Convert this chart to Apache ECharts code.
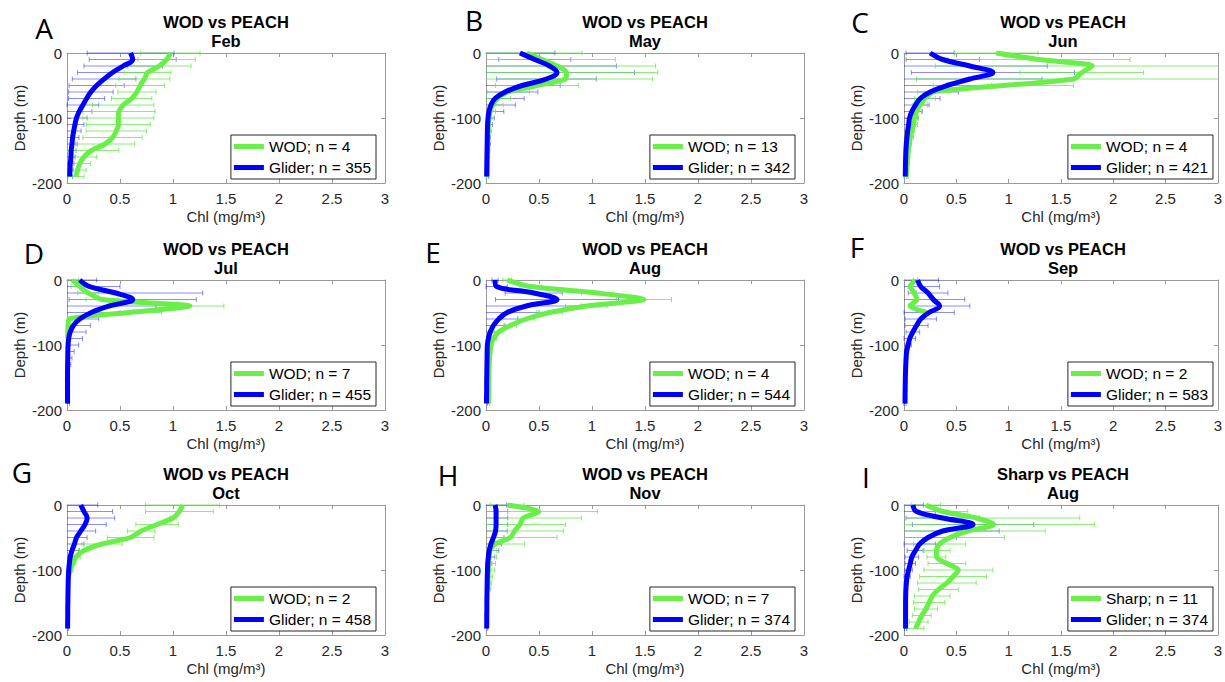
<!DOCTYPE html>
<html><head><meta charset="utf-8">
<script src="https://cdn.jsdelivr.net/npm/echarts@6/dist/echarts.min.js"></script>
<style>html,body{margin:0;padding:0;background:#fff}#c{width:1225px;height:682px}</style>
</head><body><div id="c"></div>
<script>
// ---------- DATA ----------
const depths = [0,-10,-20,-30,-40,-50,-60,-70,-80,-90,-100,-110,-120,-130,-140,-150,-160,-170,-180,-190];
const xTickLabels = ['0','0.5','1','1.5','2','2.5','3'];
const yTickLabels = ['-200','-100','0'];
const panelLetters = ['A','B','C','D','E','F','G','H','I'];
const panelTitles = ['WOD vs PEACH','WOD vs PEACH','WOD vs PEACH','WOD vs PEACH','WOD vs PEACH','WOD vs PEACH','WOD vs PEACH','WOD vs PEACH','Sharp vs PEACH'];
const panelMonths = ['Feb','May','Jun','Jul','Aug','Sep','Oct','Nov','Aug'];
const refLabels = ['WOD','WOD','WOD','WOD','WOD','WOD','WOD','WOD','Sharp'];
const refCounts = [4,13,4,7,4,2,2,7,11];
const gliderCounts = [355,342,421,455,544,583,458,374,374];

// A - Feb
const febGliderMean = [0.60,0.62,0.53,0.43,0.35,0.28,0.225,0.185,0.15,0.115,0.09,0.075,0.063,0.053,0.047,0.04,0.037,0.031,0.028,0.025];
const febGliderStd  = [0.41,0.41,0.37,0.33,0.30,0.26,0.21,0.17,0.15,0.12,0.10,0.085,0.07,0.06,0.05,0.045,0.04,0.035,0.03,0.028];
const febWodMean    = [0.975,0.94,0.87,0.76,0.73,0.69,0.66,0.61,0.53,0.49,0.485,0.485,0.465,0.43,0.36,0.23,0.16,0.12,0.10,0.085];
const febWodStd     = [0.28,0.27,0.30,0.22,0.24,0.23,0.18,0.19,0.29,0.34,0.335,0.30,0.285,0.28,0.28,0.26,0.12,0.10,0.08,0.075];
// B - May
const mayGliderMean = [0.32,0.46,0.60,0.67,0.57,0.34,0.18,0.085,0.047,0.028,0.019,0.015,0.013,0.012,0.011,0.01,0.009,0.008,0.007,0.006];
const mayGliderStd  = [0.33,0.34,0.63,0.73,0.47,0.36,0.31,0.275,0.23,0.14,0.06,0.045,0.035,0.03,0.03,0.025,0.025,0.02,0.02,0.02];
const mayWodMean    = [0.385,0.53,0.67,0.76,0.75,0.48,0.21,0.11,0.063,0.04,0.028,0.022,0.02,0.018,0.016,0.015,0.014,0.013,0.012,0.012];
const mayWodStd     = [0.52,0.69,0.93,0.86,0.82,0.39,0.2,0.12,0.1,0.05,0.03,0.02,0.02,0.015,0.015,0.01,0.01,0.01,0.01,0.01];
// C - Jun
const junGliderMean = [0.25,0.37,0.63,0.85,0.63,0.41,0.25,0.155,0.11,0.075,0.053,0.044,0.035,0.028,0.022,0.018,0.016,0.014,0.013,0.012];
const junGliderStd  = [0.23,0.35,0.74,0.78,0.69,0.43,0.27,0.19,0.13,0.10,0.08,0.06,0.05,0.04,0.03,0.025,0.02,0.02,0.02,0.015];
const junWodMean    = [0.88,1.29,1.80,1.70,1.62,0.95,0.28,0.20,0.155,0.12,0.10,0.09,0.075,0.06,0.05,0.04,0.035,0.03,0.025,0.02];
const junWodStd     = [0.40,0.87,1.50,0.59,1.50,0.67,0.15,0.10,0.07,0.05,0.04,0.04,0.03,0.03,0.02,0.02,0.02,0.02,0.02,0.02];
// D - Jul
const julGliderMean = [0.12,0.21,0.46,0.62,0.40,0.23,0.12,0.06,0.03,0.016,0.01,0.008,0.007,0.006,0.005,0.005,0.005,0.005,0.005,0.005];
const julGliderStd  = [0.16,0.29,0.82,0.60,0.44,0.27,0.18,0.16,0.15,0.13,0.10,0.06,0.04,0.03,0.02,0.02,0.02,0.02,0.02,0.02];
const julWodMean    = [0.05,0.12,0.20,0.33,1.16,0.59,0.02,0.01,0.008,0.008];
const julWodStd     = [0.06,0.08,0.10,0.15,0.32,0.30,0.03,0.02,0.02,0.02];
// E - Aug
const augGliderMean = [0.085,0.10,0.45,0.67,0.38,0.20,0.12,0.07,0.04,0.022,0.013,0.011,0.01,0.009,0.008,0.007,0.006,0.006,0.005,0.005];
const augGliderStd  = [0.03,0.10,0.27,0.58,0.52,0.30,0.18,0.11,0.08,0.06,0.04,0.03,0.02,0.02,0.015,0.01,0.01,0.01,0.01,0.01];
const augWodMean    = [0.20,0.42,1.05,1.49,0.95,0.60,0.38,0.23,0.12,0.07,0.047,0.038,0.033,0.03,0.028,0.027,0.026,0.025,0.025,0.025];
const augWodStd     = [0.04,0.10,0.15,0.26,0.20,0.12,0.08,0.06,0.04,0.03,0.02,0.02,0.015,0.015,0.01,0.01,0.01,0.01,0.01,0.01];
// F - Sep
const sepGliderMean = [0.13,0.16,0.23,0.28,0.34,0.24,0.16,0.12,0.085,0.055,0.04,0.025,0.02,0.017,0.015,0.013,0.012,0.011,0.01,0.01];
const sepGliderStd  = [0.20,0.18,0.19,0.30,0.29,0.24,0.15,0.11,0.065,0.055,0.03,0.02,0.015,0.01,0.01,0.01,0.01,0.01,0.01,0.01];
const sepWodMean    = [0.11,0.06,0.10,0.12,0.06,0.22];
const sepWodStd     = [0.02,0.02,0.02,0.02,0.02,0.02];
// G - Oct
const octGliderMean = [0.13,0.16,0.19,0.17,0.13,0.09,0.07,0.047,0.03,0.022,0.016,0.013,0.011,0.01,0.009,0.008,0.007,0.007,0.006,0.006];
const octGliderStd  = [0.16,0.27,0.26,0.20,0.14,0.10,0.09,0.07,0.055,0.04,0.03,0.02,0.015,0.01,0.01,0.01,0.01,0.01,0.01,0.01];
const octWodMean    = [1.09,1.06,1.0,0.85,0.70,0.60,0.33,0.16,0.085,0.054,0.03,0.013];
const octWodStd     = [0.35,0.32,0.03,0.2,0.13,0.22,0.19,0.05,0.04,0.03,0.02,0.01];
// H - Nov
const novGliderMean = [0.085,0.095,0.095,0.095,0.09,0.07,0.047,0.03,0.022,0.016,0.014,0.012,0.011,0.01,0.009,0.008,0.008,0.007,0.007,0.006];
const novGliderStd  = [0.11,0.11,0.11,0.11,0.11,0.10,0.10,0.09,0.06,0.04,0.03,0.02,0.02,0.015,0.01,0.01,0.01,0.01,0.01,0.01];
const novWodMean    = [0.20,0.50,0.35,0.32,0.27,0.23,0.085,0.04,0.03,0.025,0.022,0.02,0.02,0.02];
const novWodStd     = [0.16,0.55,0.55,0.43,0.46,0.44,0.28,0.06,0.07,0.065,0.06,0.04,0.03,0.02];
// I - Aug (Sharp)
const augSharpGliderMean = [0.085,0.12,0.37,0.66,0.37,0.23,0.15,0.11,0.075,0.06,0.044,0.03,0.022,0.018,0.016,0.015,0.015,0.015,0.015,0.015];
const augSharpGliderStd  = [0.10,0.18,0.35,0.58,0.54,0.27,0.15,0.08,0.065,0.05,0.036,0.03,0.02,0.015,0.01,0.01,0.01,0.01,0.01,0.01];
const augSharpMean       = [0.21,0.37,0.69,0.86,0.61,0.44,0.34,0.31,0.31,0.41,0.52,0.47,0.41,0.33,0.27,0.24,0.21,0.17,0.14,0.11];
const augSharpStd        = [0.14,0.24,0.99,0.96,0.74,0.52,0.25,0.13,0.09,0.18,0.33,0.32,0.28,0.19,0.17,0.15,0.11,0.09,0.09,0.08];

// ---------- LAYOUT / STYLE ----------
const X_MIN = 0, X_MAX = 3, X_INT = 0.5, Y_MIN = -200, Y_MAX = 0, Y_INT = 100;
const colLeft = [67, 486, 904];
const rowTop = [53, 280, 505];
const plotW = 318, plotH = 130;
const letterPos = [[44,28],[474,20],[860,22],[34,253],[433,252],[857,247],[22,472],[448,475],[866,477]];
const FONT = 'Liberation Sans, Arial, Helvetica, sans-serif';
const GREEN = '#6aee4a', BLUE = '#0000ff';
const GREEN_ERR = 'rgba(100,232,70,0.75)', BLUE_ERR = 'rgba(0,0,255,0.45)';
const AXIS_COLOR = '#9a9a9a', TEXT_COLOR = '#262626';

const panels = [
  [febWodMean, febWodStd, febGliderMean, febGliderStd],
  [mayWodMean, mayWodStd, mayGliderMean, mayGliderStd],
  [junWodMean, junWodStd, junGliderMean, junGliderStd],
  [julWodMean, julWodStd, julGliderMean, julGliderStd],
  [augWodMean, augWodStd, augGliderMean, augGliderStd],
  [sepWodMean, sepWodStd, sepGliderMean, sepGliderStd],
  [octWodMean, octWodStd, octGliderMean, octGliderStd],
  [novWodMean, novWodStd, novGliderMean, novGliderStd],
  [augSharpMean, augSharpStd, augSharpGliderMean, augSharpGliderStd]
];

function errRender(color) {
  return function (params, api) {
    const m = api.value(0), d = api.value(1), s = api.value(2);
    const lo = m - s, hi = m + s;
    const p1 = api.coord([Math.max(lo, X_MIN), d]);
    const p2 = api.coord([Math.min(hi, X_MAX), d]);
    const cap = 2.5;
    const style = { stroke: color, lineWidth: 1, fill: null };
    const children = [{ type: 'line', shape: { x1: p1[0], y1: p1[1], x2: p2[0], y2: p2[1] }, style: style }];
    if (lo >= X_MIN) children.push({ type: 'line', shape: { x1: p1[0], y1: p1[1] - cap, x2: p1[0], y2: p1[1] + cap }, style: style });
    if (hi <= X_MAX) children.push({ type: 'line', shape: { x1: p2[0], y1: p2[1] - cap, x2: p2[0], y2: p2[1] + cap }, style: style });
    return { type: 'group', children: children };
  };
}

const grids = [], xAxes = [], yAxes = [], series = [], legends = [], graphics = [];
const axisLine = { onZero: false, lineStyle: { color: AXIS_COLOR, width: 1 } };
const axisTick = { inside: true, length: 4, lineStyle: { color: AXIS_COLOR } };

panels.forEach(function (p, k) {
  const left = colLeft[k % 3], top = rowTop[Math.floor(k / 3)];
  grids.push({ left: left, top: top, width: plotW, height: plotH, containLabel: false });
  xAxes.push({
    gridIndex: k, type: 'value', position: 'bottom', min: X_MIN, max: X_MAX, interval: X_INT,
    name: 'Chl (mg/m³)', nameLocation: 'middle', nameGap: 26,
    nameTextStyle: { fontSize: 15, color: TEXT_COLOR, fontFamily: FONT },
    axisLine: axisLine, axisTick: axisTick, splitLine: { show: false },
    axisLabel: { fontSize: 15, color: TEXT_COLOR, fontFamily: FONT, margin: 8,
      formatter: function (v) { return xTickLabels[Math.round((v - X_MIN) / X_INT)]; } }
  });
  xAxes.push({
    gridIndex: k, type: 'value', position: 'top', min: X_MIN, max: X_MAX, interval: X_INT,
    axisLine: axisLine, axisTick: axisTick, splitLine: { show: false }, axisLabel: { show: false }
  });
  yAxes.push({
    gridIndex: k, type: 'value', position: 'left', min: Y_MIN, max: Y_MAX, interval: Y_INT,
    name: 'Depth (m)', nameLocation: 'middle', nameGap: 40, nameRotate: 90,
    nameTextStyle: { fontSize: 15, color: TEXT_COLOR, fontFamily: FONT },
    axisLine: axisLine, axisTick: axisTick, splitLine: { show: false },
    axisLabel: { fontSize: 15, color: TEXT_COLOR, fontFamily: FONT, margin: 5,
      formatter: function (v) { return yTickLabels[Math.round((v - Y_MIN) / Y_INT)]; } }
  });
  yAxes.push({
    gridIndex: k, type: 'value', position: 'right', min: Y_MIN, max: Y_MAX, interval: Y_INT,
    axisLine: axisLine, axisTick: axisTick, splitLine: { show: false }, axisLabel: { show: false }
  });

  const refMean = p[0], refStd = p[1], gMean = p[2], gStd = p[3];
  const refName = refLabels[k] + '; n = ' + refCounts[k];
  const gName = 'Glider; n = ' + gliderCounts[k];
  const xi = 2 * k, yi = 2 * k;

  series.push({
    type: 'custom', name: 'gerr' + k, xAxisIndex: xi, yAxisIndex: yi, silent: true,
    renderItem: errRender(BLUE_ERR), encode: { x: 0, y: 1 },
    data: gMean.map(function (m, i) { return [m, depths[i], gStd[i]]; })
  });
  series.push({
    type: 'custom', name: 'rerr' + k, xAxisIndex: xi, yAxisIndex: yi, silent: true,
    renderItem: errRender(GREEN_ERR), encode: { x: 0, y: 1 },
    data: refMean.map(function (m, i) { return [m, depths[i], refStd[i]]; })
  });
  series.push({
    type: 'line', name: refName, xAxisIndex: xi, yAxisIndex: yi, showSymbol: false, smooth: 0.25,
    lineStyle: { color: GREEN, width: 5 }, itemStyle: { color: GREEN },
    data: refMean.map(function (m, i) { return [m, depths[i]]; })
  });
  series.push({
    type: 'line', name: gName, xAxisIndex: xi, yAxisIndex: yi, showSymbol: false, smooth: 0.4,
    lineStyle: { color: BLUE, width: 5 }, itemStyle: { color: BLUE },
    data: gMean.map(function (m, i) { return [m, depths[i]]; })
  });

  legends.push({
    data: [refName, gName], orient: 'vertical', selectedMode: false,
    right: 1225 - (left + plotW - 9), bottom: 682 - (top + plotH - 4),
    icon: 'rect', itemWidth: 30, itemHeight: 5, itemGap: 2, padding: [2, 5, 2, 3],
    borderColor: '#262626', borderWidth: 1, backgroundColor: '#fff',
    textStyle: { fontSize: 15.5, color: '#000', fontFamily: FONT, lineHeight: 19 }
  });

  const cx = left + plotW / 2;
  graphics.push({ type: 'text', x: cx, y: top - 31, style: { text: panelTitles[k], font: 'bold 16.5px ' + FONT, fill: '#000', align: 'center', verticalAlign: 'middle' } });
  graphics.push({ type: 'text', x: cx, y: top - 12, style: { text: panelMonths[k], font: 'bold 16.5px ' + FONT, fill: '#000', align: 'center', verticalAlign: 'middle' } });
  graphics.push({ type: 'text', x: letterPos[k][0], y: letterPos[k][1], style: { text: panelLetters[k], font: '28px "Open Sans", sans-serif', fill: '#000', align: 'center', verticalAlign: 'middle' } });
});

const chart = echarts.init(document.getElementById('c'), null, { renderer: 'svg', width: 1225, height: 682 });
chart.setOption({
  animation: false,
  backgroundColor: '#fff',
  grid: grids, xAxis: xAxes, yAxis: yAxes, series: series, legend: legends, graphic: graphics
});
</script></body></html>
